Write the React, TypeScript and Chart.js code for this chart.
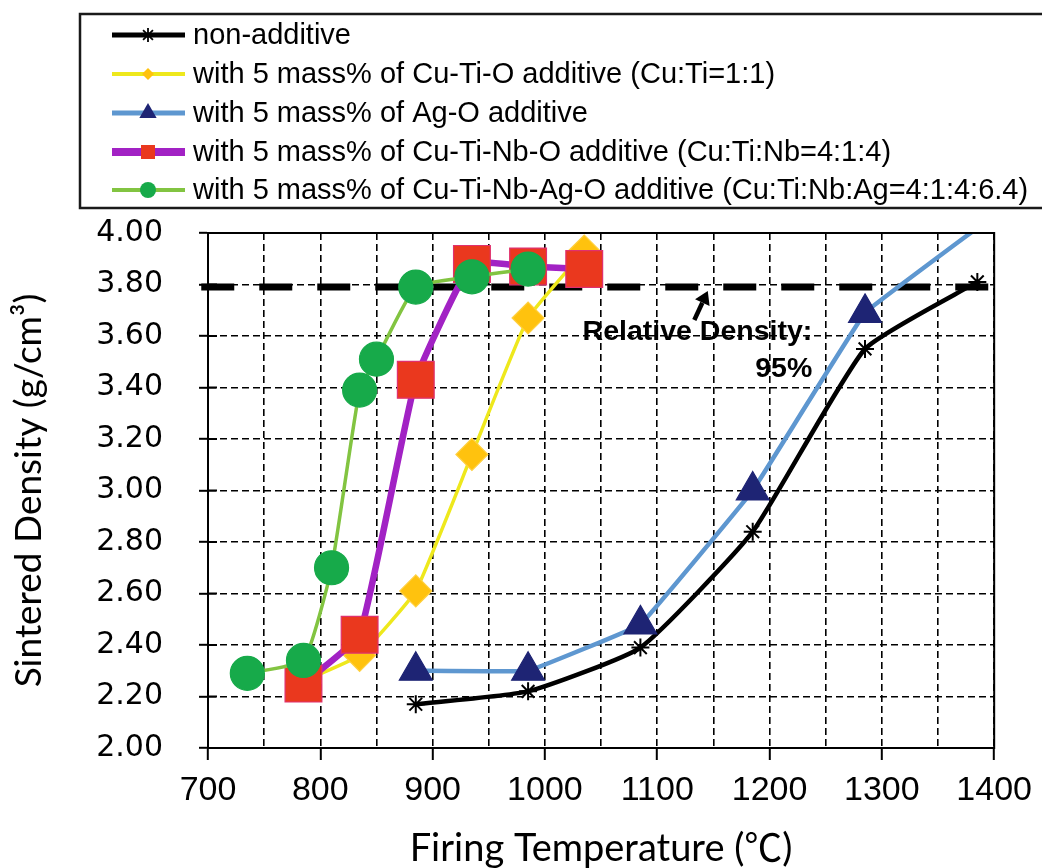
import React, { useEffect, useRef } from 'react';
import { Chart, registerables } from 'chart.js';

Chart.register(...registerables);

// ---------------- data ----------------
const nonAdditiveTemp = [885, 985, 1085, 1185, 1285, 1385];
const nonAdditiveDensity = [2.17, 2.22, 2.39, 2.84, 3.55, 3.81];

const cuTiOTemp = [785, 835, 885, 935, 985, 1035];
const cuTiODensity = [2.26, 2.36, 2.61, 3.14, 3.67, 3.93];

const agOTemp = [885, 985, 1085, 1185, 1285, 1385];
const agODensity = [2.3, 2.3, 2.48, 3.0, 3.69, 4.02];

const cuTiNbOTemp = [785, 835, 885, 935, 985, 1035];
const cuTiNbODensity = [2.25, 2.44, 3.43, 3.88, 3.87, 3.86];

const cuTiNbAgOTemp = [735, 785, 810, 835, 850, 885, 935, 985];
const cuTiNbAgODensity = [2.29, 2.34, 2.7, 3.39, 3.51, 3.79, 3.83, 3.86];

const relDensityTemp = [694, 1403];
const relDensityValue = [3.79, 3.79];

const seriesNames = [
  'non-additive',
  'with 5 mass% of Cu-Ti-O additive (Cu:Ti=1:1)',
  'with 5 mass% of Ag-O additive',
  'with 5 mass% of Cu-Ti-Nb-O additive (Cu:Ti:Nb=4:1:4)',
  'with 5 mass% of Cu-Ti-Nb-Ag-O additive (Cu:Ti:Nb:Ag=4:1:4:6.4)',
];

const xAxisTitle = 'Firing Temperature (℃)';
const yAxisTitle = 'Sintered Density (g/cm³)';
const annotationText = ['Relative Density:', '95%'];
// annotation anchors in data units (temperature, density)
const annotationTextX = [1238, 1238];
const annotationTextY = [3.584, 3.44];
const arrowTail = [1133, 3.662];
const arrowHead = [1145, 3.775];

const xMin = 700;
const xMax = 1400;
const xGridStep = 50;
const xLabelStep = 100;
const yMin = 2;
const yMax = 4;
const yStep = 0.2;

// ---------------- styles ----------------
const ARIAL = "'Liberation Sans', Arial, sans-serif";
const DEJAVU = "'DejaVu Sans', sans-serif";
const LATO = "Lato, 'Noto Sans CJK JP', sans-serif";

type SeriesStyle = {
  line: string;
  lineWidth: number;
  marker: string;
  markerBorder: string;
  pointStyle: string;
  radius: number;
  legendRadius: number;
  legendLineWidth: number;
  tension: number;
  order: number;
};

const styles: SeriesStyle[] = [
  { line: '#000000', lineWidth: 4.5, marker: '#000000', markerBorder: '#000000', pointStyle: 'star', radius: 9, legendRadius: 7, legendLineWidth: 5, tension: 0.15, order: 5 },
  { line: '#EEE81C', lineWidth: 3.5, marker: '#FFC20E', markerBorder: '#FFD040', pointStyle: 'rectRot', radius: 16, legendRadius: 6, legendLineWidth: 4, tension: 0.12, order: 4 },
  { line: '#5E97D0', lineWidth: 4.5, marker: '#1E2474', markerBorder: '#1E2474', pointStyle: 'triangle', radius: 19, legendRadius: 10, legendLineWidth: 5, tension: 0.05, order: 3 },
  { line: '#A222C4', lineWidth: 6.5, marker: '#EA381E', markerBorder: '#E0306E', pointStyle: 'rect', radius: 26, legendRadius: 7, legendLineWidth: 8, tension: 0.12, order: 2 },
  { line: '#82C441', lineWidth: 3.5, marker: '#17AA4A', markerBorder: '#17AA4A', pointStyle: 'circle', radius: 17, legendRadius: 8, legendLineWidth: 4, tension: 0.15, order: 1 },
];

const toPoints = (xs: number[], ys: number[]) => xs.map((x, i) => ({ x, y: ys[i] }));

function drawMarker(ctx: CanvasRenderingContext2D, s: SeriesStyle, x: number, y: number, r: number) {
  ctx.save();
  ctx.fillStyle = s.marker;
  ctx.strokeStyle = s.markerBorder;
  ctx.lineWidth = 1.8;
  ctx.beginPath();
  if (s.pointStyle === 'star') {
    for (let a = 0; a < 4; a++) {
      const ang = (a * Math.PI) / 4;
      ctx.moveTo(x + Math.cos(ang) * r, y + Math.sin(ang) * r);
      ctx.lineTo(x - Math.cos(ang) * r, y - Math.sin(ang) * r);
    }
    ctx.stroke();
  } else if (s.pointStyle === 'circle') {
    ctx.arc(x, y, r, 0, Math.PI * 2);
    ctx.fill();
  } else if (s.pointStyle === 'triangle') {
    ctx.moveTo(x, y - r);
    ctx.lineTo(x + r * 0.866, y + r * 0.5);
    ctx.lineTo(x - r * 0.866, y + r * 0.5);
    ctx.closePath();
    ctx.fill();
  } else if (s.pointStyle === 'rect') {
    ctx.rect(x - r, y - r, 2 * r, 2 * r);
    ctx.fill();
  } else {
    ctx.moveTo(x - r, y);
    ctx.lineTo(x, y - r);
    ctx.lineTo(x + r, y);
    ctx.lineTo(x, y + r);
    ctx.closePath();
    ctx.fill();
  }
  ctx.restore();
}

const overlayPlugin = {
  id: 'overlay',
  afterDatasetsDraw(chart: any) {
    const { ctx, chartArea, scales } = chart;
    const xs = scales.x;
    const ys = scales.y;
    ctx.save();
    // plot frame
    ctx.strokeStyle = '#000';
    ctx.lineWidth = 2;
    ctx.strokeRect(chartArea.left, chartArea.top, chartArea.right - chartArea.left, chartArea.bottom - chartArea.top);
    // inner halves of the crossing y ticks
    ys.ticks.forEach((t: any) => {
      const py = ys.getPixelForValue(t.value);
      ctx.beginPath();
      ctx.moveTo(chartArea.left, py);
      ctx.lineTo(chartArea.left + 9, py);
      ctx.stroke();
    });
    // annotation text
    ctx.fillStyle = '#000';
    ctx.font = `bold 28.5px ${ARIAL}`;
    ctx.textAlign = 'right';
    ctx.textBaseline = 'alphabetic';
    annotationText.forEach((txt, i) => {
      ctx.fillText(txt, xs.getPixelForValue(annotationTextX[i]), ys.getPixelForValue(annotationTextY[i]));
    });
    // arrow
    const tx = xs.getPixelForValue(arrowTail[0]);
    const ty = ys.getPixelForValue(arrowTail[1]);
    const hx = xs.getPixelForValue(arrowHead[0]);
    const hy = ys.getPixelForValue(arrowHead[1]);
    const ang = Math.atan2(hy - ty, hx - tx);
    const headLen = 13;
    const bx = hx - Math.cos(ang) * headLen;
    const by = hy - Math.sin(ang) * headLen;
    ctx.lineWidth = 4.5;
    ctx.beginPath();
    ctx.moveTo(tx, ty);
    ctx.lineTo(bx, by);
    ctx.stroke();
    ctx.beginPath();
    ctx.moveTo(hx, hy);
    ctx.lineTo(bx + Math.sin(ang) * 8, by - Math.cos(ang) * 8);
    ctx.lineTo(bx - Math.sin(ang) * 8, by + Math.cos(ang) * 8);
    ctx.closePath();
    ctx.fill();
    ctx.restore();
  },
  afterDraw(chart: any) {
    const { ctx } = chart;
    ctx.save();
    // legend box
    ctx.strokeStyle = '#1a1a1a';
    ctx.lineWidth = 2.5;
    ctx.strokeRect(80, 14, 1000, 194);
    const rowY = [35, 74, 113, 152, 190];
    ctx.font = `29px ${ARIAL}`;
    ctx.textAlign = 'left';
    ctx.textBaseline = 'middle';
    seriesNames.forEach((name, i) => {
      const s = styles[i];
      const y = rowY[i];
      ctx.strokeStyle = s.line;
      ctx.lineWidth = s.legendLineWidth;
      ctx.beginPath();
      ctx.moveTo(112, y);
      ctx.lineTo(185, y);
      ctx.stroke();
      drawMarker(ctx, s, 148, y, s.legendRadius);
      ctx.fillStyle = '#000';
      ctx.fillText(name, 193, y + 1);
    });
    ctx.restore();
  },
};

export default function App() {
  const canvasRef = useRef<HTMLCanvasElement>(null);

  useEffect(() => {
    document.body.style.margin = '0';
    document.body.style.overflow = 'hidden';
    const canvas = canvasRef.current;
    if (!canvas) return;

    const seriesData = [
      toPoints(nonAdditiveTemp, nonAdditiveDensity),
      toPoints(cuTiOTemp, cuTiODensity),
      toPoints(agOTemp, agODensity),
      toPoints(cuTiNbOTemp, cuTiNbODensity),
      toPoints(cuTiNbAgOTemp, cuTiNbAgODensity),
    ];

    const datasets: any[] = seriesData.map((data, i) => {
      const s = styles[i];
      return {
        label: seriesNames[i],
        data,
        order: s.order,
        borderColor: s.line,
        borderWidth: s.lineWidth,
        backgroundColor: s.marker,
        tension: s.tension,
        pointStyle: s.pointStyle,
        pointRadius: (c: any) => (c.raw && c.raw.y > yMax ? 0 : s.radius),
        pointBackgroundColor: s.marker,
        pointBorderColor: s.markerBorder,
        pointBorderWidth: s.pointStyle === 'star' ? 2 : 1.2,
        fill: false,
      };
    });

    datasets.push({
      label: 'Relative Density 95%',
      data: toPoints(relDensityTemp, relDensityValue),
      order: 6,
      borderColor: '#000',
      borderWidth: 7,
      borderDash: [33, 25],
      pointRadius: 0,
      tension: 0,
      clip: false,
      fill: false,
    });

    const chart = new Chart(canvas, {
      type: 'line',
      data: { datasets },
      options: {
        responsive: false,
        maintainAspectRatio: false,
        animation: false,
        devicePixelRatio: 1,
        layout: { padding: { top: 233, right: 47, left: 0, bottom: 0 } },
        plugins: {
          legend: { display: false },
          tooltip: { enabled: false },
        },
        scales: {
          x: {
            type: 'linear',
            min: xMin,
            max: xMax,
            ticks: {
              stepSize: xGridStep,
              autoSkip: false,
              maxRotation: 0,
              padding: 10,
              color: '#000',
              font: { family: ARIAL, size: 34 },
              callback: (v: any) => (Number(v) % xLabelStep === 0 ? String(v) : ''),
            },
            grid: {
              color: '#000',
              lineWidth: 1.6,
              tickLength: 12,
              tickWidth: 2,
              tickColor: (c: any) => (c.tick && c.tick.value % xLabelStep === 0 ? '#000' : 'rgba(0,0,0,0)'),
            },
            border: { display: true, color: '#000', width: 2, dash: [7, 4] },
            title: {
              display: true,
              text: xAxisTitle,
              color: '#000',
              font: { family: LATO, size: 38, lineHeight: 1 },
              padding: { top: 0, bottom: 0 },
            },
            afterFit: (scale: any) => {
              scale.height = 120;
            },
          } as any,
          y: {
            type: 'linear',
            min: yMin,
            max: yMax,
            ticks: {
              stepSize: yStep,
              padding: 36,
              color: '#000',
              font: { family: DEJAVU, size: 30 },
              callback: (v: any) => Number(v).toFixed(2),
            },
            grid: {
              color: '#000',
              lineWidth: 1.6,
              tickLength: 9,
              tickWidth: 2,
            },
            border: { display: true, color: '#000', width: 2, dash: [7, 4] },
            title: {
              display: true,
              text: yAxisTitle,
              color: '#000',
              font: { family: LATO, size: 37, lineHeight: 1 },
              padding: { top: 11, bottom: 0 },
            },
            afterFit: (scale: any) => {
              scale.width = 208;
            },
          } as any,
        },
      },
      plugins: [overlayPlugin],
    });

    return () => chart.destroy();
  }, []);

  return <canvas ref={canvasRef} width={1042} height={868} style={{ display: 'block' }} />;
}
